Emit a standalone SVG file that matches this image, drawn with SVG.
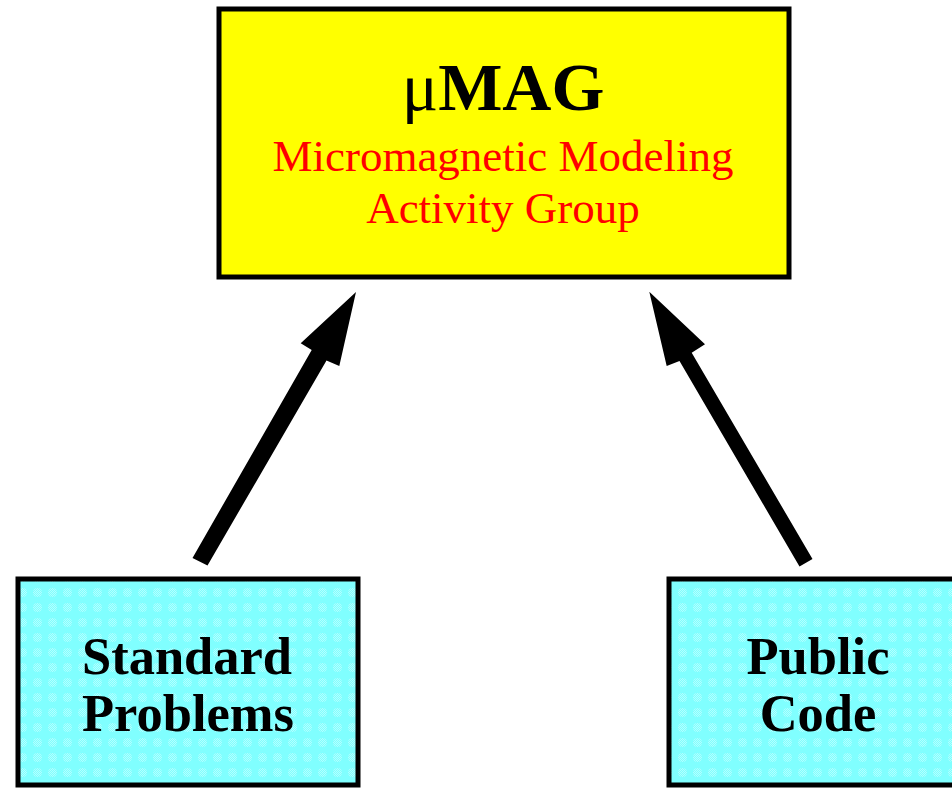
<svg xmlns="http://www.w3.org/2000/svg" width="952" height="788" viewBox="0 0 952 788">
<style>
.box{stroke:#000;stroke-width:5}
.title{font-family:"Liberation Serif","Times New Roman",serif;text-anchor:middle}
.lbl{font-family:"Liberation Serif","Times New Roman",serif;font-weight:bold;font-size:52.5px;text-anchor:middle;fill:#000}
.red{font-size:45px;fill:#ff0000}
.arrow{fill:#000}
</style>
<defs>
<pattern id="chk" width="2" height="2" patternUnits="userSpaceOnUse">
<rect width="2" height="2" fill="#80ffff"/>
<rect width="1" height="1" fill="#b4ffff"/>
<rect x="1" y="1" width="1" height="1" fill="#b4ffff"/>
</pattern>
<pattern id="dots" width="15" height="15" patternUnits="userSpaceOnUse">
<rect width="15" height="15" fill="#80ffff"/>
<circle cx="7.5" cy="7.5" r="4.5" fill="url(#chk)"/>
</pattern>
</defs>
<rect width="952" height="788" fill="#fff"/>
<g id="connectors">
<polygon class="arrow" points="192.5,558 311.7,350 300.7,343.3 356,292 339.3,366 326.5,360.5 207.5,565.5"/>
<polygon class="arrow" points="812.5,559 691.7,352.7 705,344.3 649.3,291.7 666.7,366 679.5,361 799.5,566.5"/>
</g>
<g id="umag">
<rect class="box" x="219" y="9" width="570" height="268" fill="#ffff00"/>
<text class="title" x="503" y="110" font-size="68"><tspan>μ</tspan><tspan font-weight="bold">MAG</tspan></text>
<text class="title red" x="503" y="171">Micromagnetic Modeling</text>
<text class="title red" x="503" y="223">Activity Group</text>
</g>
<g id="standard-problems">
<rect class="box" x="18" y="579" width="340" height="206" fill="url(#dots)" stroke-width="6"/>
<text class="lbl" x="187" y="674">Standard</text>
<text class="lbl" x="188" y="731">Problems</text>
</g>
<g id="public-code">
<rect class="box" x="669" y="579" width="300" height="206" fill="url(#dots)" stroke-width="6"/>
<text class="lbl" x="818" y="674">Public</text>
<text class="lbl" x="818" y="731">Code</text>
</g>
</svg>
